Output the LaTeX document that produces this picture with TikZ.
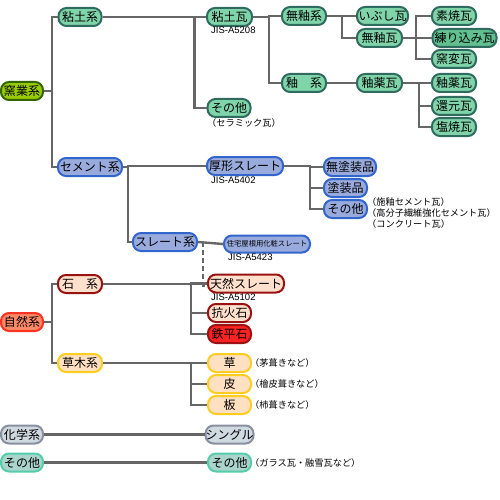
\documentclass[tikz,border=0pt]{standalone}
\usepackage{fontspec}
\newfontfamily\jp{Noto Sans CJK JP}
\newfontfamily\lat{Liberation Sans}
\definecolor{lineg}{HTML}{666666}
\definecolor{claybg}{HTML}{80D4AA}
\definecolor{claybgd}{HTML}{60C090}
\definecolor{clayln}{HTML}{2F6B5F}
\definecolor{yogbg}{HTML}{99CC00}
\definecolor{yogln}{HTML}{336600}
\definecolor{cembg}{HTML}{99AADD}
\definecolor{cemln}{HTML}{3366CC}
\definecolor{stbg}{HTML}{FFE0CC}
\definecolor{stln}{HTML}{991111}
\definecolor{redbg}{HTML}{FF2222}
\definecolor{natbg}{HTML}{FF8866}
\definecolor{natln}{HTML}{FF3322}
\definecolor{grbg}{HTML}{FFE0C0}
\definecolor{grln}{HTML}{FFCC22}
\definecolor{chbg}{HTML}{D0D8E0}
\definecolor{chln}{HTML}{8890A0}
\definecolor{otbg}{HTML}{AAD4CC}
\definecolor{otln}{HTML}{55CCAA}
\tikzset{
  box/.style={draw, line width=2pt, rounded corners=8pt, inner sep=0pt,
    minimum height=18pt, minimum width=43pt, text=black,
    font=\jp\fontsize{12}{12}\selectfont},
  clay/.style={box, fill=claybg, draw=clayln},
  yog/.style={box, fill=yogbg, draw=yogln},
  cem/.style={box, fill=cembg, draw=cemln},
  stone/.style={box, fill=stbg, draw=stln},
  nat/.style={box, fill=natbg, draw=natln},
  grass/.style={box, fill=grbg, draw=grln},
  chem/.style={box, fill=chbg, draw=chln},
  oth/.style={box, fill=otbg, draw=otln},
  conn/.style={draw=lineg, line width=2.4pt},
  dconn/.style={conn, line width=2pt, dash pattern=on 5pt off 3pt},
  jis/.style={font=\lat\fontsize{9.5}{10}\selectfont, inner sep=0pt, anchor=north west},
  note/.style={font=\jp\fontsize{9.2}{11}\selectfont, inner sep=0pt, align=left},
}
\begin{document}
\begin{tikzpicture}[x=1pt,y=-1pt]
\useasboundingbox (0,0) rectangle (500,500);
% level 0
\node[yog, minimum width=42pt] (yogyo) at (22,91) {窯業系};
\node[nat, minimum width=42pt] (shizen) at (22,322) {自然系};
\node[chem, minimum width=42pt] (kagaku) at (22,434.5) {化学系};
\node[oth, minimum width=42pt] (sonota0) at (22,462.5) {その他};
% level 1
\node[clay] (nendo) at (80,17) {粘土系};
\node[cem, minimum width=64pt] (cement) at (90,167) {セメント系};
\node[stone, minimum width=44pt] (ishi) at (80,284) {石　系};
\node[grass, minimum width=44pt] (soumoku) at (80,363) {草木系};
% clay
\node[clay, minimum width=45pt] (nendogawara) at (229.5,17) {粘土瓦};
\node[jis] (jis1) at (211,27) {JIS-A5208};
\node[clay] (sonota1) at (229,108) {その他};
\node[note, anchor=north west] (n1) at (207,118) {（セラミック瓦）};
\node[clay, minimum width=44pt] (muyuukei) at (304,16) {無釉系};
\node[clay, minimum width=44pt] (yuukei) at (304,83) {釉　系};
\node[clay, minimum width=51pt] (ibushi) at (382.5,16) {いぶし瓦};
\node[clay, minimum width=45pt] (muyuugawara) at (379.5,38) {無釉瓦};
\node[clay, minimum width=45pt] (yuuyaku4) at (379.5,83) {釉薬瓦};
\node[clay, minimum width=44pt] (suyaki) at (454,16) {素焼瓦};
\node[clay, fill=claybgd, minimum width=64pt] (nerikomi) at (464.5,38) {練り込み瓦};
\node[clay, minimum width=44pt] (youhen) at (454,59) {窯変瓦};
\node[clay, minimum width=44pt] (yuuyaku5) at (454,83) {釉薬瓦};
\node[clay, minimum width=44pt] (kangen) at (454,106) {還元瓦};
\node[clay, minimum width=44pt] (enyaki) at (454,127) {塩焼瓦};
% cement
\node[cem, minimum width=76pt] (atsugata) at (245,166) {厚形スレート};
\node[jis] (jis2) at (211,177) {JIS-A5402};
\node[cem, minimum width=52pt] (mutosou) at (350,167) {無塗装品};
\node[cem] (tosou) at (345.5,188) {塗装品};
\node[cem] (sonota2) at (345.5,209) {その他};
\node[note, anchor=north west] (n2) at (367,197.5) {（施釉セメント瓦）\\（高分子繊維強化セメント瓦）\\（コンクリート瓦）};
\node[cem, minimum width=86pt, minimum height=17pt, font=\jp\fontsize{7.3}{8}\selectfont] (slatekei-dummy) at (267,244) {住宅屋根用化粧スレート};
\node[cem, minimum width=64pt] (slatekei) at (165,242) {スレート系};
\node[jis] (jis3) at (228,254) {JIS-A5423};
% stone
\node[stone, minimum width=76pt] (tennen) at (246,283.5) {天然スレート};
\node[jis] (jis4) at (211,294) {JIS-A5102};
\node[stone] (kouka) at (229.5,313) {抗火石};
\node[stone, fill=redbg] (teppei) at (229.5,334) {鉄平石};
% grass
\node[grass] (kusa) at (229.5,363) {草};
\node[note, anchor=west] (n3) at (250,363) {（茅葺きなど）};
\node[grass] (kawa) at (229.5,384) {皮};
\node[note, anchor=west] (n4) at (250,384) {（檜皮葺きなど）};
\node[grass] (ita) at (229.5,405) {板};
\node[note, anchor=west] (n5) at (250,405) {（杮葺きなど）};
% chem / other
\node[chem] (shingle) at (229.5,434.5) {シングル};
\node[oth] (sonota3) at (229.5,462.5) {その他};
\node[note, anchor=west] (n6) at (250,462.5) {（ガラス瓦・融雪瓦など）};
% connectors
\draw[conn] (yogyo.east) -- ++(8,0) |- (nendo.west);
\draw[conn] (yogyo.east) -- ++(8,0) |- (cement.west);
\draw[conn] (shizen.east) -- ++(8,0) |- (ishi.west);
\draw[conn] (shizen.east) -- ++(8,0) |- (soumoku.west);
\draw[conn] (kagaku.east) -- (shingle.west);
\draw[conn] (sonota0.east) -- (sonota3.west);
\draw[conn] (nendo.east) -- ++(92,0) |- (nendogawara.west);
\draw[conn] (nendo.east) -- ++(92,0) |- (sonota1.west);
\draw[conn] (nendogawara.east) -- ++(16,0) |- (muyuukei.west);
\draw[conn] (nendogawara.east) -- ++(16,0) |- (yuukei.west);
\draw[conn] (muyuukei.east) -- ++(15,0) |- (ibushi.west);
\draw[conn] (muyuukei.east) -- ++(15,0) |- (muyuugawara.west);
\draw[conn] (yuukei.east) -- (yuuyaku4.west);
\draw[conn] (muyuugawara.east) -- ++(13,0) |- (suyaki.west);
\draw[conn] (muyuugawara.east) -- ++(13,0) |- (nerikomi.west);
\draw[conn] (muyuugawara.east) -- ++(13,0) |- (youhen.west);
\draw[conn] (yuuyaku4.east) -- ++(16,0) |- (yuuyaku5.west);
\draw[conn] (yuuyaku4.east) -- ++(16,0) |- (kangen.west);
\draw[conn] (yuuyaku4.east) -- ++(16,0) |- (enyaki.west);
\draw[conn] (cement.east) -- ++(5,0) |- (atsugata.west);
\draw[conn] (cement.east) -- ++(5,0) |- (slatekei.west);
\draw[conn] (atsugata.east) -- ++(26,0) |- (mutosou.west);
\draw[conn] (atsugata.east) -- ++(26,0) |- (tosou.west);
\draw[conn] (atsugata.east) -- ++(26,0) |- (sonota2.west);
\draw[conn] (slatekei.east) -- (slatekei-dummy.west);
\draw[dconn] ([xshift=5pt]slatekei.east) |- ([yshift=-2pt]tennen.west);
\draw[conn] (ishi.east) -- ++(88,0) |- (tennen.west);
\draw[conn] (ishi.east) -- ++(88,0) |- (kouka.west);
\draw[conn] (ishi.east) -- ++(88,0) |- (teppei.west);
\draw[conn] (soumoku.east) -- ++(88,0) |- (kusa.west);
\draw[conn] (soumoku.east) -- ++(88,0) |- (kawa.west);
\draw[conn] (soumoku.east) -- ++(88,0) |- (ita.west);
\end{tikzpicture}
\end{document}
